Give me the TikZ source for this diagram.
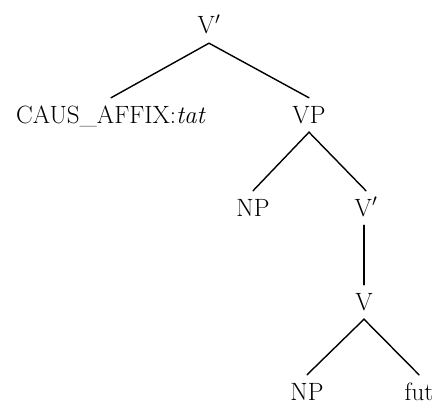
\documentclass[tikz,border=0pt]{standalone}
\usepackage{fontspec}
\begin{document}
\begin{tikzpicture}[x=1pt,y=-1pt,
  cat/.style={font=\fontsize{25}{28}\selectfont\addfontfeatures{FakeBold=0.5},
    anchor=base, inner xsep=0pt, inner ysep=9pt, text height=16pt, text depth=0pt},
  branch/.style={line width=1.4pt, line cap=round}]
  \useasboundingbox (0,0) rectangle (441,404);
  % nodes, placed at their baselines
  \node[cat] (top)  at (209,34)  {V$'$};
  \node[cat] (caus) at (111,123) {CAUS\_AFFIX:\textit{tat}};
  \node[cat] (vp)   at (309,123) {VP};
  \node[cat] (np1)  at (253,216) {NP};
  \node[cat] (vb)   at (366,216) {V$'$};
  \node[cat] (v)    at (364,310) {V};
  \node[cat] (np2)  at (307,400) {NP};
  \node[cat] (fut)  at (419,400) {fut};
  % branches
  \draw[branch] (caus.north) -- (top.south) -- (vp.north);
  \draw[branch] (np1.north) -- (vp.south) -- (vb.north);
  \draw[branch] (v.north |- vb.south) -- (v.north);
  \draw[branch] (np2.north) -- (v.south) -- (fut.north);
\end{tikzpicture}
\end{document}
